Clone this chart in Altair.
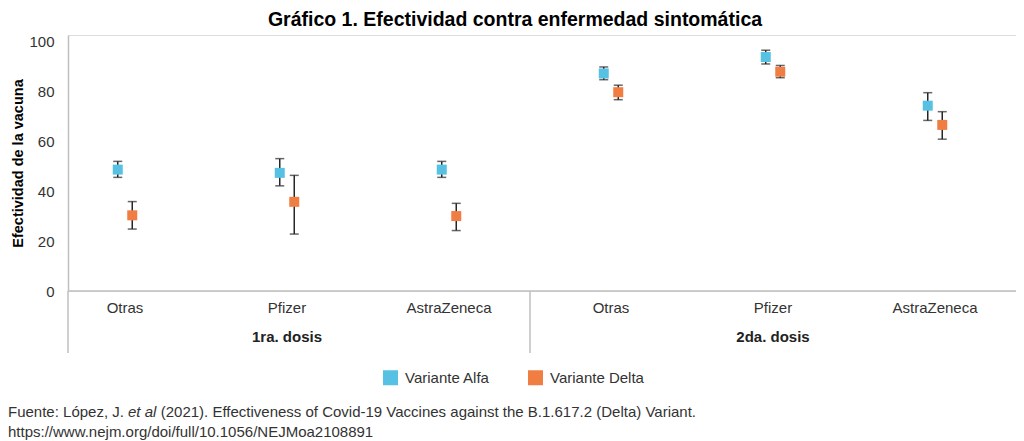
import altair as alt
import pandas as pd

doses = ["1ra. dosis", "2da. dosis"]
vaccines = ["Otras", "Pfizer", "AstraZeneca"]
variants = ["Variante Alfa", "Variante Delta"]

alfa = [48.6, 47.3, 48.6, 87.1, 93.7, 74.2]
alfa_lo = [45.5, 42.1, 45.5, 84.6, 90.9, 68.3]
alfa_hi = [51.9, 53.0, 51.9, 89.7, 96.4, 79.4]
delta = [30.3, 35.7, 30.0, 79.6, 87.8, 66.5]
delta_lo = [24.8, 22.8, 24.2, 76.6, 85.4, 60.8]
delta_hi = [35.8, 46.3, 35.1, 82.4, 90.3, 71.8]

title_text = "Gráfico 1. Efectividad contra enfermedad sintomática"
y_title = "Efectividad de la vacuna"
y_ticks = [0, 20, 40, 60, 80, 100]
source_a = "Fuente: López, J."
source_b = "et al"
source_c = "(2021). Effectiveness of Covid-19 Vaccines against the B.1.617.2 (Delta) Variant."
source_d = "https://www.nejm.org/doi/full/10.1056/NEJMoa2108891"

keys = [f"{d}|{v}" for d in doses for v in vaccines]

rows = []
series = {"Variante Alfa": (alfa, alfa_lo, alfa_hi), "Variante Delta": (delta, delta_lo, delta_hi)}
for var in variants:
    vals, los, his = series[var]
    for i, k in enumerate(keys):
        rows.append({"key": k, "variant": var, "value": vals[i], "lo": los[i], "hi": his[i]})
df = pd.DataFrame(rows)

FONT = "Liberation Sans"
GRAY = "#bfbfbf"
BAR = "#262626"
W = 948
H = 256
X0 = -24
BAND = (W - X0) / len(keys)


def xenc(**kw):
    return alt.X(
        "key:N",
        scale=alt.Scale(domain=keys, range=[X0, W], paddingInner=0, paddingOuter=0),
        axis=alt.Axis(
            title=None,
            labelExpr="split(datum.label, '|')[1]",
            labelAngle=0,
            ticks=False,
            tickSize=0,
            domain=False,
            labelPadding=9,
            labelFontSize=15,
            labelColor="#333333",
        ),
        **kw,
    )


def yenc(field):
    return alt.Y(
        field,
        scale=alt.Scale(domain=[0, 102.5], nice=False),
        axis=alt.Axis(
            values=y_ticks,
            grid=False,
            ticks=False,
            tickSize=0,
            labelPadding=14,
            domainColor=GRAY,
            domainWidth=1.5,
            labelFontSize=15,
            labelColor="#333333",
            titleFontSize=14.5,
            titleFontWeight="bold",
            titlePadding=3,
            titleColor="#000000",
        ),
        title=y_title,
    )


half = BAND / 2
xoff = alt.XOffset(
    "variant:N",
    scale=alt.Scale(domain=variants, range=[half - 14.5, half + 14.5], paddingInner=0, paddingOuter=0),
)

base = alt.Chart(df)

baseline = alt.Chart(pd.DataFrame({"v": [0]})).mark_rule(color=GRAY, strokeWidth=1.5).encode(
    y=yenc("v:Q"), x=alt.value(0), x2=alt.value(W)
)
bars = base.mark_rule(color=BAR, strokeWidth=1.5).encode(
    x=xenc(), xOffset=xoff, y=yenc("lo:Q"), y2="hi:Q"
)
caps_lo = base.mark_tick(color=BAR, thickness=1.5, size=9).encode(
    x=xenc(), xOffset=xoff, y=yenc("lo:Q")
)
caps_hi = base.mark_tick(color=BAR, thickness=1.5, size=9).encode(
    x=xenc(), xOffset=xoff, y=yenc("hi:Q")
)
points = base.mark_point(shape="square", filled=True, size=100, opacity=1).encode(
    x=xenc(),
    xOffset=xoff,
    y=yenc("value:Q"),
    color=alt.Color(
        "variant:N",
        scale=alt.Scale(domain=variants, range=["#56C1E3", "#F07E42"]),
        legend=alt.Legend(
            title=None,
            orient="none",
            legendX=315,
            legendY=335,
            direction="horizontal",
            symbolType="square",
            symbolSize=225,
            symbolStrokeWidth=0,
            labelFontSize=15,
            labelOffset=7,
            columnPadding=38,
            labelColor="#333333",
        ),
    ),
)

group_df = pd.DataFrame({"key": [f"{d}|Pfizer" for d in doses], "label": doses})
group_labels = alt.Chart(group_df).mark_text(
    fontWeight="bold", fontSize=15, baseline="middle", color="#222222"
).encode(x=xenc(), y=alt.value(302), text="label:N")

sep_df = pd.DataFrame({"key": [f"{doses[1]}|{vaccines[0]}"]})
separator_mid = alt.Chart(sep_df).mark_rule(color=GRAY, strokeWidth=1.5).encode(
    x=xenc(bandPosition=0), y=alt.value(H), y2=alt.value(318)
)
separator_left = alt.Chart(pd.DataFrame({"v": [0]})).mark_rule(color=GRAY, strokeWidth=1.5).encode(
    x=alt.value(0), y=alt.value(H), y2=alt.value(318)
)

src1 = pd.DataFrame({"t": [source_a]})
src2 = pd.DataFrame({"t": [source_b]})
src3 = pd.DataFrame({"t": [source_c]})
src4 = pd.DataFrame({"t": [source_d]})
note_style = dict(fontSize=15, align="left", baseline="middle", color="#333333")
note1 = alt.Chart(src1).mark_text(**note_style).encode(x=alt.value(-60), y=alt.value(377), text="t:N")
note2 = alt.Chart(src2).mark_text(fontStyle="italic", **note_style).encode(x=alt.value(60), y=alt.value(377), text="t:N")
note3 = alt.Chart(src3).mark_text(**note_style).encode(x=alt.value(92.7), y=alt.value(377), text="t:N")
note4 = alt.Chart(src4).mark_text(**note_style).encode(x=alt.value(-60), y=alt.value(397), text="t:N")

chart = (
    alt.layer(
        baseline, separator_left, separator_mid, bars, caps_lo, caps_hi, points,
        group_labels, note1, note2, note3, note4,
    )
    .properties(
        width=W,
        height=H,
        autosize="none",
        padding={"left": 60, "top": 27, "right": 0, "bottom": 150},
        title=alt.TitleParams(
            title_text, fontSize=19.5, fontWeight="bold", anchor="middle", dx=-27, offset=4, color="#000000"
        ),
    )
    .configure_view(strokeWidth=0)
    .configure(font=FONT)
)

chart.save("out.html", embed_options={"renderer": "svg", "actions": False})
